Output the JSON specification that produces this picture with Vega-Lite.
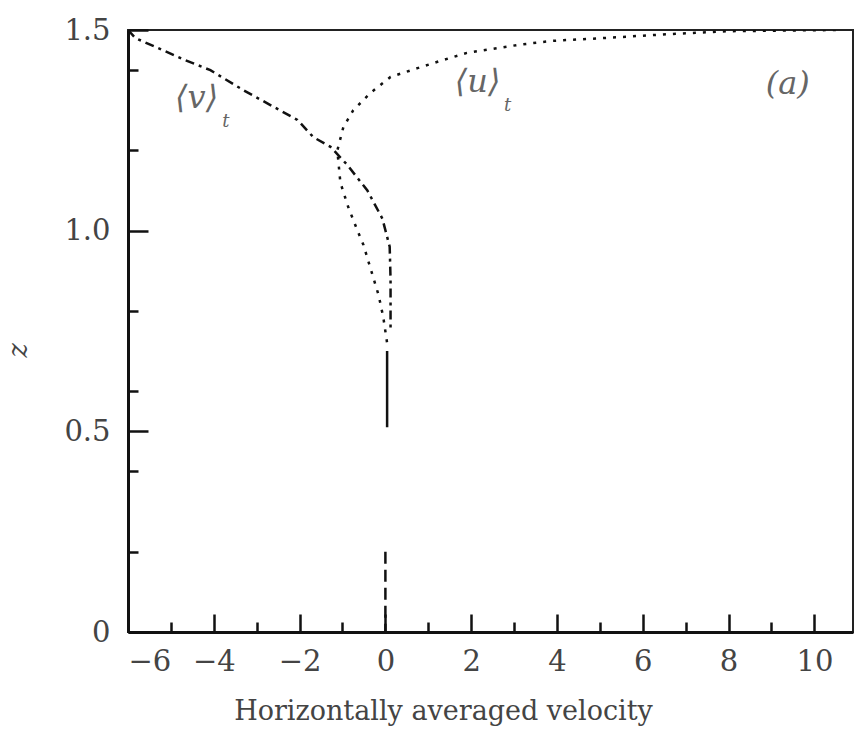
{
  "$schema": "https://vega.github.io/schema/vega-lite/v6.json",
  "width": 725,
  "height": 602,
  "autosize": {"type": "none"},
  "padding": {"left": 128, "top": 30, "right": 3, "bottom": 110},
  "background": "white",
  "config": {
    "view": {"stroke": "#222", "strokeWidth": 2},
    "font": "DejaVu Serif",
    "axis": {
      "grid": false,
      "domainColor": "#111",
      "domainWidth": 3,
      "tickColor": "#111",
      "tickWidth": 2.5,
      "labelFont": "DejaVu Serif",
      "labelFontSize": 29,
      "labelColor": "#444",
      "titleFont": "DejaVu Serif",
      "titleFontSize": 27,
      "titleColor": "#444",
      "titleFontWeight": "normal"
    }
  },
  "datasets": {
    "curves": [
      {"s": "u", "o": 1, "x": 10.5, "z": 1.5},
      {"s": "u", "o": 2, "x": 8.0, "z": 1.497},
      {"s": "u", "o": 3, "x": 6.65, "z": 1.49},
      {"s": "u", "o": 4, "x": 5.1, "z": 1.48},
      {"s": "u", "o": 5, "x": 3.9, "z": 1.473},
      {"s": "u", "o": 6, "x": 3.1, "z": 1.463},
      {"s": "u", "o": 7, "x": 2.5, "z": 1.453},
      {"s": "u", "o": 8, "x": 1.9, "z": 1.443},
      {"s": "u", "o": 9, "x": 1.28, "z": 1.423},
      {"s": "u", "o": 10, "x": 0.75, "z": 1.405},
      {"s": "u", "o": 11, "x": 0.12, "z": 1.383},
      {"s": "u", "o": 12, "x": -0.35, "z": 1.343},
      {"s": "u", "o": 13, "x": -0.75, "z": 1.3},
      {"s": "u", "o": 14, "x": -0.98, "z": 1.258},
      {"s": "u", "o": 15, "x": -1.12, "z": 1.2},
      {"s": "u", "o": 16, "x": -1.05, "z": 1.12},
      {"s": "u", "o": 17, "x": -0.86, "z": 1.057},
      {"s": "u", "o": 18, "x": -0.65, "z": 1.0},
      {"s": "u", "o": 19, "x": -0.51, "z": 0.964},
      {"s": "u", "o": 20, "x": -0.35, "z": 0.907},
      {"s": "u", "o": 21, "x": -0.16, "z": 0.84},
      {"s": "u", "o": 22, "x": -0.05, "z": 0.785},
      {"s": "u", "o": 23, "x": 0.04, "z": 0.72},
      {"s": "v", "o": 1, "x": -6.0, "z": 1.5},
      {"s": "v", "o": 2, "x": -5.83, "z": 1.48},
      {"s": "v", "o": 3, "x": -5.3, "z": 1.455},
      {"s": "v", "o": 4, "x": -4.67, "z": 1.425},
      {"s": "v", "o": 5, "x": -4.08, "z": 1.4},
      {"s": "v", "o": 6, "x": -3.31, "z": 1.35},
      {"s": "v", "o": 7, "x": -2.68, "z": 1.313},
      {"s": "v", "o": 8, "x": -2.05, "z": 1.276},
      {"s": "v", "o": 9, "x": -1.68, "z": 1.233},
      {"s": "v", "o": 10, "x": -1.28, "z": 1.209},
      {"s": "v", "o": 11, "x": -0.89, "z": 1.164},
      {"s": "v", "o": 12, "x": -0.42, "z": 1.1},
      {"s": "v", "o": 13, "x": -0.07, "z": 1.03},
      {"s": "v", "o": 14, "x": 0.1, "z": 0.96},
      {"s": "v", "o": 15, "x": 0.12, "z": 0.88},
      {"s": "v", "o": 16, "x": 0.12, "z": 0.75},
      {"s": "w1", "o": 1, "x": 0.04, "z": 0.7},
      {"s": "w1", "o": 2, "x": 0.04, "z": 0.51},
      {"s": "w2", "o": 1, "x": 0.0, "z": 0.2},
      {"s": "w2", "o": 2, "x": 0.0, "z": 0.0}
    ],
    "labels": [
      {"x": -4.4, "z": 1.33, "t": "⟨v⟩", "k": "main"},
      {"x": -3.72, "z": 1.27, "t": "t", "k": "sub"},
      {"x": 2.15, "z": 1.37, "t": "⟨u⟩", "k": "main"},
      {"x": 2.85, "z": 1.31, "t": "t", "k": "sub"},
      {"x": 9.38, "z": 1.365, "t": "(a)", "k": "main"}
    ]
  },
  "layer": [
    {
      "data": {"name": "curves"},
      "mark": {"type": "line", "strokeWidth": 2.5, "color": "#111", "clip": true},
      "encoding": {
        "x": {
          "field": "x", "type": "quantitative",
          "scale": {"domain": [-6, 10.9], "nice": false, "zero": false},
          "axis": {
            "title": "Horizontally averaged velocity",
            "values": [-6, -5, -4, -3, -2, -1, 0, 1, 2, 3, 4, 5, 6, 7, 8, 9, 10],
            "labelExpr": "datum.value % 2 === 0 ? replace(format(datum.value, 'd'), '-', '−') : ''",
            "tickSize": {"condition": {"test": "datum.value % 2 === 0", "value": -18}, "value": -10},
            "labelPadding": 33,
            "titlePadding": 22,
            "titleX": 315,
            "titleAlign": "center"
          }
        },
        "y": {
          "field": "z", "type": "quantitative",
          "scale": {"domain": [0, 1.5], "nice": false},
          "axis": {
            "title": "z",
            "titleFontStyle": "italic",
            "values": [0, 0.2, 0.4, 0.5, 0.6, 0.8, 1.0, 1.2, 1.4, 1.5],
            "labelExpr": "datum.value === 0 ? '0' : (abs(datum.value * 2 - round(datum.value * 2)) < 0.001 ? format(datum.value, '.1f') : '')",
            "tickSize": {"condition": {"test": "abs(datum.value * 2 - round(datum.value * 2)) < 0.001", "value": -20}, "value": -10},
            "labelPadding": 38,
            "titlePadding": 31,
            "titleY": 320
          }
        },
        "detail": {"field": "s"},
        "order": {"field": "o", "type": "quantitative"},
        "strokeDash": {
          "field": "s", "type": "nominal",
          "scale": {"domain": ["u", "v", "w1", "w2"], "range": [[3, 7], [9, 5, 3, 5], [1, 0], [12, 6]]},
          "legend": null
        }
      }
    },
    {
      "data": {"name": "labels"},
      "mark": {"type": "text", "font": "DejaVu Serif", "fontStyle": "italic", "color": "#666"},
      "encoding": {
        "x": {"field": "x", "type": "quantitative"},
        "y": {"field": "z", "type": "quantitative"},
        "text": {"field": "t"},
        "size": {"field": "k", "type": "nominal", "scale": {"domain": ["main", "sub"], "range": [32, 18]}, "legend": null}
      }
    }
  ]
}
